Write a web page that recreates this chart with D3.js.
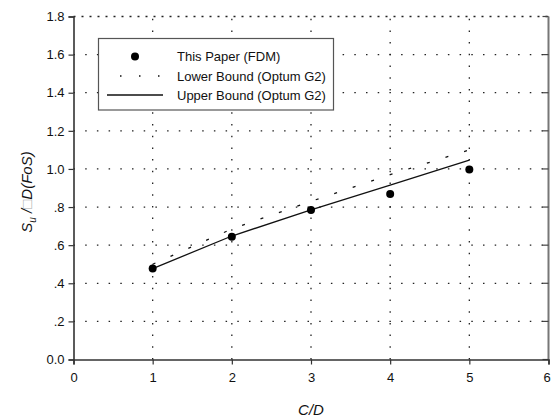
<!DOCTYPE html>
<html>
<head>
<meta charset="utf-8">
<script src="https://cdn.jsdelivr.net/npm/d3@7"></script>
<style>
  body { margin: 0; background: #fff; }
  svg { display: block; font-family: "Liberation Sans", Arial, sans-serif; }
</style>
</head>
<body>
<svg id="chart" width="551" height="418"></svg>
<script>
// chart data
const cdRatios = [1, 2, 3, 4, 5];
const fdmValues = [0.477, 0.644, 0.785, 0.868, 0.997];
const lowerBound = [0.50, 0.685, 0.83, 0.97, 1.10];
const upperBound = [0.477, 0.648, 0.785, 0.915, 1.046];

const xTicks = [0, 1, 2, 3, 4, 5, 6];
const yTicks = [0, 0.2, 0.4, 0.6, 0.8, 1.0, 1.2, 1.4, 1.6, 1.8];
const yTickLabels = ["0.0", ".2", ".4", ".6", ".8", "1.0", "1.2", "1.4", "1.6", "1.8"];
const legendLabels = ["This Paper (FDM)", "Lower Bound (Optum G2)", "Upper Bound (Optum G2)"];

const svg = d3.select("#chart");

const x = d3.scaleLinear().domain([0, 6]).range([73.5, 548.5]);
const y = d3.scaleLinear().domain([0, 1.8]).range([359.5, 16.5]);

// dotted grid
const grid = svg.append("g").attr("stroke", "#222").attr("stroke-width", 1.3)
  .attr("stroke-dasharray", "1.5,10.2");
grid.selectAll("line.h")
  .data(yTicks.filter(v => v > 0 && v < 1.8))
  .join("line")
  .attr("x1", x(0)).attr("x2", x(6))
  .attr("y1", d => y(d)).attr("y2", d => y(d));
grid.selectAll("line.v")
  .data(cdRatios)
  .join("line")
  .attr("x1", d => x(d)).attr("x2", d => x(d))
  .attr("y1", y(0)).attr("y2", y(1.8));

// top edge, dotted
svg.append("line")
  .attr("x1", x(0)).attr("x2", x(6))
  .attr("y1", y(1.8)).attr("y2", y(1.8))
  .attr("stroke", "#222").attr("stroke-width", 1.3)
  .attr("stroke-dasharray", "2,6");

// right axis, ticks pointing inward
svg.append("line")
  .attr("x1", x(6)).attr("x2", x(6))
  .attr("y1", y(0)).attr("y2", y(1.8))
  .attr("stroke", "#777").attr("stroke-width", 2);
svg.append("g").selectAll("line")
  .data(yTicks)
  .join("line")
  .attr("x1", x(6) - 6).attr("x2", x(6))
  .attr("y1", d => y(d)).attr("y2", d => y(d))
  .attr("stroke", "#444").attr("stroke-width", 1.2);

// left axis
const yAxis = svg.append("g")
  .attr("transform", `translate(${x(0)},0)`)
  .call(d3.axisLeft(y).tickValues(yTicks).tickSize(5).tickPadding(4)
    .tickFormat((d, i) => yTickLabels[i]));
yAxis.select(".domain").attr("stroke", "#333").attr("stroke-width", 1.6);
yAxis.selectAll(".tick line").attr("stroke", "#333").attr("stroke-width", 1.2);
yAxis.selectAll("text").attr("font-size", 13).attr("fill", "#111")
  .attr("font-family", "Liberation Sans, Arial, sans-serif");

// bottom axis
const xAxis = svg.append("g")
  .attr("transform", `translate(0,${y(0)})`)
  .call(d3.axisBottom(x).tickValues(xTicks).tickSize(5).tickPadding(8)
    .tickFormat(d3.format("d")));
xAxis.select(".domain").attr("stroke", "#333").attr("stroke-width", 1.6);
xAxis.selectAll(".tick line").attr("stroke", "#333").attr("stroke-width", 1.2);
xAxis.selectAll("text").attr("font-size", 13).attr("fill", "#111")
  .attr("font-family", "Liberation Sans, Arial, sans-serif");
// last label sits at the window edge; nudge it in so it is not clipped
xAxis.selectAll(".tick text").filter(d => d === 6).attr("dx", -2);

// series
const line = d3.line().x((d, i) => x(cdRatios[i])).y(d => y(d));

svg.append("path")
  .datum(lowerBound)
  .attr("d", line)
  .attr("fill", "none").attr("stroke", "#111").attr("stroke-width", 1.3)
  .attr("stroke-dasharray", "3,16.5");

svg.append("path")
  .datum(upperBound)
  .attr("d", line)
  .attr("fill", "none").attr("stroke", "#111").attr("stroke-width", 1.3);

svg.append("g").selectAll("circle")
  .data(fdmValues)
  .join("circle")
  .attr("cx", (d, i) => x(cdRatios[i]))
  .attr("cy", d => y(d))
  .attr("r", 4)
  .attr("fill", "#000");

// legend
const legend = svg.append("g");
legend.append("rect")
  .attr("x", 98.5).attr("y", 38.5).attr("width", 235).attr("height", 71.5)
  .attr("fill", "#fff").attr("stroke", "#555").attr("stroke-width", 1.2);
const rowY = [56.5, 76, 95];
legend.append("circle").attr("cx", 135).attr("cy", rowY[0]).attr("r", 4).attr("fill", "#000");
legend.append("line")
  .attr("x1", 120).attr("x2", 160).attr("y1", rowY[1]).attr("y2", rowY[1])
  .attr("stroke", "#111").attr("stroke-width", 1.3).attr("stroke-dasharray", "1.5,17.5");
legend.append("line")
  .attr("x1", 107).attr("x2", 163).attr("y1", rowY[2]).attr("y2", rowY[2])
  .attr("stroke", "#111").attr("stroke-width", 1.3);
legend.selectAll("text")
  .data(legendLabels)
  .join("text")
  .attr("x", 177).attr("y", (d, i) => rowY[i])
  .attr("dy", "0.35em")
  .attr("font-size", 13).attr("fill", "#111")
  .text(d => d);

// axis titles
svg.append("text")
  .attr("x", (x(0) + x(6)) / 2).attr("y", 415)
  .attr("text-anchor", "middle")
  .attr("font-size", 15).attr("font-style", "italic").attr("fill", "#111")
  .text("C/D");

const yTitle = svg.append("text")
  .attr("transform", "translate(32,192) rotate(-90)")
  .attr("text-anchor", "middle")
  .attr("font-size", 15).attr("font-style", "italic").attr("fill", "#111");
yTitle.append("tspan").text("S");
yTitle.append("tspan").attr("font-size", 10).attr("dy", 4).text("u");
yTitle.append("tspan").attr("dy", -4).text(" /");
yTitle.append("tspan").attr("fill", "#aaa").attr("font-style", "normal").text("\u25A1");
yTitle.append("tspan").text("D(FoS)");
</script>
</body>
</html>
